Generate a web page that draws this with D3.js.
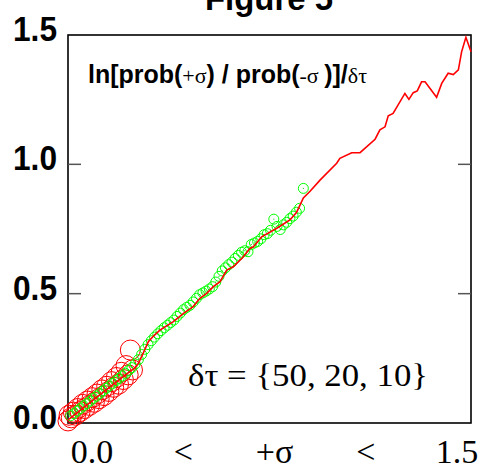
<!DOCTYPE html>
<html><head><meta charset="utf-8">
<script src="https://cdn.jsdelivr.net/npm/d3@7"></script>
<style>body{margin:0;background:#fff}svg{display:block}</style>
</head><body>
<svg id="c" width="486" height="470"></svg>
<script>
// ---- data ----
const lineX = [0.000,0.030,0.060,0.100,0.140,0.180,0.220,0.250,0.262,0.280,0.299,0.320,0.342,0.392,0.430,0.466,0.491,0.516,0.541,0.566,0.591,0.615,0.650,0.677,0.690,0.721,0.777,0.826,0.851,0.876,0.901,0.938,1.000,1.012,1.056,1.087,1.143,1.161,1.180,1.192,1.210,1.254,1.269,1.285,1.300,1.316,1.329,1.372,1.391,1.415,1.434,1.453,1.465,1.481,1.500];
const lineY = [0.012,0.036,0.061,0.094,0.126,0.159,0.191,0.214,0.231,0.270,0.314,0.338,0.359,0.392,0.424,0.450,0.482,0.501,0.527,0.546,0.591,0.604,0.640,0.675,0.681,0.720,0.753,0.785,0.815,0.870,0.896,0.939,1.004,1.023,1.045,1.045,1.097,1.133,1.145,1.188,1.197,1.274,1.251,1.277,1.284,1.319,1.319,1.259,1.313,1.352,1.347,1.365,1.435,1.491,1.435];

const greenX = [0.010,0.022,0.034,0.046,0.058,0.070,0.082,0.094,0.106,0.118,0.130,0.142,0.154,0.166,0.178,0.190,0.202,0.214,0.226,0.238,0.250,0.262,0.274,0.286,0.298,0.310,0.322,0.334,0.346,0.358,0.370,0.382,0.394,0.406,0.418,0.430,0.442,0.454,0.466,0.478,0.490,0.502,0.514,0.526,0.538,0.550,0.562,0.574,0.586,0.598,0.610,0.622,0.634,0.646,0.658,0.670,0.682,0.694,0.706,0.718,0.730,0.742,0.754,0.766,0.778,0.790,0.802,0.814,0.826,0.838,0.850,0.862,0.876];
const greenY = [0.028,0.036,0.046,0.056,0.066,0.075,0.085,0.095,0.104,0.114,0.124,0.134,0.143,0.153,0.163,0.172,0.182,0.192,0.203,0.214,0.228,0.245,0.265,0.285,0.303,0.318,0.332,0.345,0.357,0.368,0.378,0.388,0.398,0.412,0.425,0.438,0.447,0.455,0.468,0.482,0.496,0.503,0.510,0.518,0.527,0.545,0.567,0.588,0.600,0.612,0.622,0.636,0.648,0.660,0.666,0.662,0.690,0.696,0.702,0.712,0.728,0.732,0.745,0.788,0.760,0.748,0.766,0.776,0.790,0.800,0.815,0.830,0.907];

const redX = [0.000,0.004,0.012,0.020,0.028,0.036,0.045,0.054,0.062,0.072,0.080,0.090,0.098,0.108,0.116,0.126,0.134,0.144,0.152,0.162,0.170,0.180,0.188,0.198,0.206,0.216,0.224,0.232,0.240];
const redY = [0.008,0.030,0.020,0.042,0.030,0.056,0.044,0.072,0.056,0.085,0.068,0.098,0.080,0.112,0.094,0.128,0.106,0.142,0.122,0.160,0.138,0.176,0.150,0.196,0.168,0.222,0.186,0.282,0.205];

const yTicks = [0.0, 0.5, 1.0, 1.5];
const yTickLabels = ["0.0", "0.5", "1.0", "1.5"];
const xLabels = ["0.0", "<", "+\u03C3", "<", "1.5"];

// ---- layout ----
const svg = d3.select("#c");
const L = 68, R = 471, T = 35, B = 423;
const x = d3.scaleLinear().domain([0, 1.5]).range([L, R]);
const y = d3.scaleLinear().domain([0, 1.5]).range([B, T]);

// title (clipped at top as in the reference)
svg.append("text").attr("x", 269).attr("y", 10).attr("text-anchor", "middle")
  .attr("font-family", "Liberation Sans, Arial, sans-serif").attr("font-weight", "bold")
  .attr("font-size", 34).attr("textLength", 128).attr("lengthAdjust", "spacingAndGlyphs")
  .text("Figure 5");

// frame
svg.append("rect").attr("x", L).attr("y", T).attr("width", R - L).attr("height", B - T)
  .attr("fill", "none").attr("stroke", "#000").attr("stroke-width", 1.6);

// inner ticks
const mid = [0.5, 1.0];
svg.selectAll("line.tl").data(mid).join("line")
  .attr("x1", L).attr("x2", L + 13).attr("y1", d => y(d)).attr("y2", d => y(d))
  .attr("stroke", "#555").attr("stroke-width", 1.5);
svg.selectAll("line.tr").data(mid).join("line")
  .attr("x1", R - 13).attr("x2", R).attr("y1", d => y(d)).attr("y2", d => y(d))
  .attr("stroke", "#555").attr("stroke-width", 1.5);

// y tick labels
svg.selectAll("text.yl").data(yTicks).join("text")
  .attr("x", 57).attr("y", d => y(d) + 6).attr("text-anchor", "end")
  .attr("font-family", "Liberation Sans, Arial, sans-serif").attr("font-weight", "bold")
  .attr("font-size", 35).attr("textLength", 44).attr("lengthAdjust", "spacingAndGlyphs")
  .text((d, i) => yTickLabels[i]);

// x labels
const xp = d3.scalePoint().domain(d3.range(xLabels.length)).range([92, 457]);
svg.selectAll("text.xl").data(xLabels).join("text")
  .attr("x", (d, i) => xp(i)).attr("y", 463).attr("text-anchor", "middle")
  .attr("font-family", "Liberation Serif, Times New Roman, serif")
  .attr("font-size", 34)
  .text(d => d);

// red circles
svg.append("g").selectAll("circle").data(redX).join("circle")
  .attr("cx", d => x(d)).attr("cy", (d, i) => y(redY[i])).attr("r", 10)
  .attr("fill", "none").attr("stroke", "#ff0000").attr("stroke-width", 1);

// green circles
const gg = svg.append("g");
gg.selectAll("circle").data(greenX).join("circle")
  .attr("cx", d => x(d)).attr("cy", (d, i) => y(greenY[i])).attr("r", 5)
  .attr("fill", "none").attr("stroke", "#00ff00").attr("stroke-width", 1);
gg.selectAll("rect").data(greenX).join("rect")
  .attr("x", d => x(d) - 0.5).attr("y", (d, i) => y(greenY[i]) - 0.5).attr("width", 1).attr("height", 1)
  .attr("fill", "#00cc00");

// red line
const pts = lineX.map((d, i) => [d, lineY[i]]);
svg.append("path").datum(pts)
  .attr("d", d3.line().x(d => x(d[0])).y(d => y(d[1])))
  .attr("fill", "none").attr("stroke", "#ff0000").attr("stroke-width", 1.6);

// annotation
const ann = svg.append("text").attr("x", 88).attr("y", 83)
  .attr("textLength", 279).attr("lengthAdjust", "spacingAndGlyphs");
const bold = s => ann.append("tspan").attr("font-family", "Liberation Sans, Arial, sans-serif").attr("font-weight", "bold").attr("font-size", 25).text(s);
const serif = s => ann.append("tspan").attr("font-family", "Liberation Serif, Times New Roman, serif").attr("font-size", 22).text(s);
bold("ln[prob(");
serif("+\u03C3");
bold(") / prob(");
serif("-\u03C3 ");
bold(")]/");
serif("\u03B4\u03C4");

// delta tau text
svg.append("text").attr("x", 188).attr("y", 386)
  .attr("font-family", "Liberation Serif, Times New Roman, serif").attr("font-size", 31)
  .attr("textLength", 240).attr("lengthAdjust", "spacingAndGlyphs")
  .text("\u03B4\u03C4 = {50, 20, 10}");
</script>
</body></html>
